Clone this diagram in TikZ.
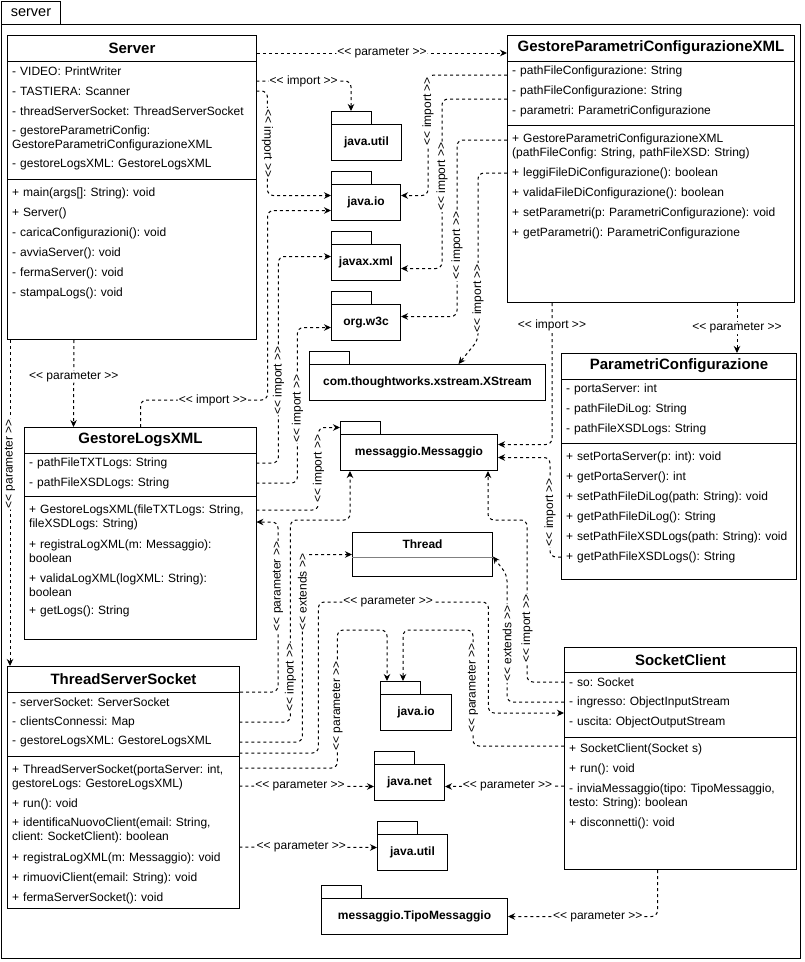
\documentclass[tikz,border=0pt]{standalone}
\usepackage{fontspec}
\setmainfont{Liberation Sans}[Ligatures=TeXOff]
\usetikzlibrary{arrows.meta}
\frenchspacing
\tikzset{
    cls/.style={draw, anchor=north west, inner sep=0pt, line width=1pt},
    row/.style={anchor=west, inner xsep=5pt, inner ysep=0pt, text width=#1, align=left, font=\fontsize{12}{14}\selectfont},
    title/.style={font=\fontsize{15}{16}\selectfont\bfseries},
    pkg/.style={draw, anchor=north west, minimum height=36, inner sep=0pt, line width=1pt, font=\fontsize{12}{14}\selectfont\bfseries},
    dep/.style={dash pattern=on 3pt off 3pt, line width=1pt, rounded corners=6pt, -{Stealth[length=7pt,width=6.5pt]}},
    lbl/.style={fill=white, inner sep=1pt, font=\fontsize{12}{14}\selectfont},
    lblv/.style={lbl, rotate=90}
}

\begin{document}
\begin{tikzpicture}[x=1pt, y=-1pt]
    \useasboundingbox (0,0) rectangle (804,962);
    \node[draw, anchor=north west, minimum width=59, minimum height=23, inner sep=0pt, line width=1pt, font=\fontsize{14.5}{16}\selectfont] (srvtab) at (1,1) {server};
    \node[cls, minimum width=799, minimum height=934] (frame) at (1,24) {};

    \node[cls, minimum width=249, minimum height=304] (srv) at (7,35) {};
    \node[title] at ([yshift=-13pt]srv.north) {Server};
    \draw[line width=1pt] ([yshift=-26pt]srv.north west) -- ([yshift=-26pt]srv.north east);
    \draw[line width=1pt] ([yshift=-144pt]srv.north west) -- ([yshift=-144pt]srv.north east);
    \foreach \y/\txt [count=\i] in {71/{- VIDEO: PrintWriter}, 91/{- TASTIERA: Scanner}, 111/{- threadServerSocket: ThreadServerSocket}, 138/{- gestoreParametriConfig:\\GestoreParametriConfigurazioneXML}, 165/{- gestoreLogsXML: GestoreLogsXML}, 193/{+ main(args[]: String): void}, 213/{+ Server()}, 233/{- caricaConfigurazioni(): void}, 253/{- avviaServer(): void}, 273/{- fermaServer(): void}, 293/{- stampaLogs(): void}}
        \node[row=239] (srv\i) at (7,\y) {\txt};

    \node[cls, minimum width=287, minimum height=267] (gpc) at (507,35) {};
    \node[title] at ([yshift=-13pt]gpc.north) {GestoreParametriConfigurazioneXML};
    \draw[line width=1pt] ([yshift=-26pt]gpc.north west) -- ([yshift=-26pt]gpc.north east);
    \draw[line width=1pt] ([yshift=-90pt]gpc.north west) -- ([yshift=-90pt]gpc.north east);
    \foreach \y/\txt [count=\i] in {71/{- pathFileConfigurazione: String}, 91/{- pathFileConfigurazione: String}, 111/{- parametri: ParametriConfigurazione}, 146/{+ GestoreParametriConfigurazioneXML\\(pathFileConfig: String, pathFileXSD: String)}, 173/{+ leggiFileDiConfigurazione(): boolean}, 193/{+ validaFileDiConfigurazione(): boolean}, 213/{+ setParametri(p: ParametriConfigurazione): void}, 233/{+ getParametri(): ParametriConfigurazione}}
        \node[row=277] (gpc\i) at (507,\y) {\txt};

    \node[cls, minimum width=232, minimum height=212] (glx) at (24,427) {};
    \node[title] at ([yshift=-13pt]glx.north) {GestoreLogsXML};
    \draw[line width=1pt] ([yshift=-26pt]glx.north west) -- ([yshift=-26pt]glx.north east);
    \draw[line width=1pt] ([yshift=-69pt]glx.north west) -- ([yshift=-69pt]glx.north east);
    \foreach \y/\txt [count=\i] in {463/{- pathFileTXTLogs: String}, 483/{- pathFileXSDLogs: String}, 517/{+ GestoreLogsXML(fileTXTLogs: String,\\fileXSDLogs: String)}, 551/{+ registraLogXML(m: Messaggio):\\boolean}, 585/{+ validaLogXML(logXML: String):\\boolean}, 611/{+ getLogs(): String}}
        \node[row=222] (glx\i) at (24,\y) {\txt};

    \node[cls, minimum width=232, minimum height=242] (tss) at (7,666) {};
    \node[title] at ([yshift=-13pt]tss.north) {ThreadServerSocket};
    \draw[line width=1pt] ([yshift=-26pt]tss.north west) -- ([yshift=-26pt]tss.north east);
    \draw[line width=1pt] ([yshift=-90pt]tss.north west) -- ([yshift=-90pt]tss.north east);
    \foreach \y/\txt [count=\i] in {702/{- serverSocket: ServerSocket}, 722/{- clientsConnessi: Map}, 742/{- gestoreLogsXML: GestoreLogsXML}, 777/{+ ThreadServerSocket(portaServer: int,\\gestoreLogs: GestoreLogsXML)}, 804/{+ run(): void}, 830/{+ identificaNuovoClient(email: String,\\client: SocketClient): boolean}, 858/{+ registraLogXML(m: Messaggio): void}, 878/{+ rimuoviClient(email: String): void}, 898/{+ fermaServerSocket(): void}}
        \node[row=222] (tss\i) at (7,\y) {\txt};

    \node[cls, minimum width=235, minimum height=226] (pc) at (561,353) {};
    \node[title] at ([yshift=-13pt]pc.north) {ParametriConfigurazione};
    \draw[line width=1pt] ([yshift=-26pt]pc.north west) -- ([yshift=-26pt]pc.north east);
    \draw[line width=1pt] ([yshift=-90pt]pc.north west) -- ([yshift=-90pt]pc.north east);
    \foreach \y/\txt [count=\i] in {389/{- portaServer: int}, 409/{- pathFileDiLog: String}, 429/{- pathFileXSDLogs: String}, 457/{+ setPortaServer(p: int): void}, 477/{+ getPortaServer(): int}, 497/{+ setPathFileDiLog(path: String): void}, 517/{+ getPathFileDiLog(): String}, 537/{+ setPathFileXSDLogs(path: String): void}, 557/{+ getPathFileXSDLogs(): String}}
        \node[row=225] (pc\i) at (561,\y) {\txt};

    \node[cls, minimum width=232, minimum height=222] (sc) at (564,647) {};
    \node[title] at ([yshift=-13pt]sc.north) {SocketClient};
    \draw[line width=1pt] ([yshift=-25pt]sc.north west) -- ([yshift=-25pt]sc.north east);
    \draw[line width=1pt] ([yshift=-90pt]sc.north west) -- ([yshift=-90pt]sc.north east);
    \foreach \y/\txt [count=\i] in {682/{- so: Socket}, 702/{- ingresso: ObjectInputStream}, 722/{- uscita: ObjectOutputStream}, 749/{+ SocketClient(Socket s)}, 769/{+ run(): void}, 796/{- inviaMessaggio(tipo: TipoMessaggio,\\testo: String): boolean}, 823/{+ disconnetti(): void}}
        \node[row=222] (sc\i) at (564,\y) {\txt};

    \node[cls, minimum width=140, minimum height=44] (thread) at (352,532) {};
    \node[font=\fontsize{12}{14}\selectfont\bfseries] at ([yshift=-12pt]thread.north) {Thread};
    \draw[gray] ([yshift=-25pt]thread.north west) -- ([yshift=-25pt]thread.north east);

    \foreach \n/\x/\y/\w/\txt in {jutil/331/124/70/java.util, jio/331/184/69/java.io, jxml/331/244/69/javax.xml, w3c/331/304/69/org.w3c, xstr/309/364/236/com.thoughtworks.xstream.XStream, msg/340/434/157/messaggio.Messaggio, jioB/380/694/71/java.io, jnet/374/764/70/java.net, jutilB/377/834/70/java.util, tipo/321/898/186/messaggio.TipoMessaggio}
    {
        \node[pkg, minimum width=\w] (\n) at (\x,\y) {\txt};
        \draw[line width=1pt] (\n.north west) rectangle ++(40,-13);
        \coordinate (\n-t) at ([xshift=20pt, yshift=13pt]\n.north west);
    }

    \draw[dep] ([yshift=-18pt]srv.north east) -- node[lbl]{<< parameter >>} ([yshift=-18pt]gpc.north west);
    \draw[dep] ([yshift=10pt]srv2.east) -| node[lbl, pos=0.25]{<< import >>} (jutil-t);
    \draw[dep] (srv2.east) -- ++(11,0) |- node[lbl, rotate=-90, pos=0.25]{<< import >>} ([yshift=7pt]jio.west);
    \draw[dep] ([xshift=-58pt]srv.south) -- node[lbl, pos=0.42]{<< parameter >>} ([xshift=-67pt]glx.north);
    \draw[dep] ([xshift=3pt]srv.south west) -- node[lblv, pos=0.38]{<< parameter >>} ([xshift=3pt]tss.north west);

    \draw[dep] ([yshift=-4pt]gpc1.west) -- ++(-79,0) |- node[lblv, pos=0.15]{<< import >>} ([yshift=7pt]jio.east);
    \draw[dep] ([yshift=-8pt]gpc2.west) -- ++(-65,0) |- node[lblv, pos=0.23]{<< import >>} ([yshift=-6pt]jxml.east);
    \draw[dep] ([yshift=6pt]gpc4.west) -- ++(-50,0) |- node[lblv, pos=0.3]{<< import >>} ([yshift=6pt]w3c.east);
    \draw[dep] (gpc5.west) -- ++(-29,0) -- node[lblv, pos=0.75]{<< import >>} ++(0,167) -- ([xshift=31pt]xstr.north);
    \draw[dep] ([xshift=-99pt]gpc.south) |- node[lbl, pos=0.08]{<< import >>} ([yshift=8pt]msg.east);
    \draw[dep] ([xshift=86pt]gpc.south) -- node[lbl]{<< parameter >>} ([xshift=58pt]pc.north);

    \draw[dep] (glx.north) -- ++(0,-27) -- node[lbl, pos=0.57]{<< import >>} ++(127,0) |- ([yshift=-8pt]jio.west);
    \draw[dep] (glx1.east) -- ++(22,0) |- node[lblv, pos=0.2]{<< import >>} ([yshift=6pt]jxml.west);
    \draw[dep] (glx2.east) -- ++(41,0) |- node[lblv, pos=0.24]{<< import >>} ([yshift=-5pt]w3c.west);
    \draw[dep] ([yshift=7pt]glx3.east) -- ++(62,0) |- node[lblv, pos=0.25]{<< import >>} ([yshift=6.5pt]msg.north west);

    \draw[dep] ([yshift=-26pt]tss.north east) -- ++(38,0) |- node[lblv, pos=0.31]{<< parameter >>} ([yshift=-5pt]glx3.east);
    \draw[dep] (tss2.east) -- ++(51,0) -- node[lblv, pos=0.22]{<< import >>} ++(0,-202) -| ([xshift=10pt]msg.south west);
    \draw[dep] (tss3.east) -- ++(63,0) |- node[lblv, pos=0.4]{<< extends >>} (thread.west);
    \draw[dep] ([yshift=-11pt]tss3.east) -- ++(79,0) -- ++(0,-151) -- node[lbl, pos=0.41]{<< parameter >>} ++(170,0) |- ([yshift=9pt]sc3.west);
    \draw[dep] ([yshift=9pt]tss4.east) -- ++(98,0) -- node[lblv, pos=0.45]{<< parameter >>} ++(0,-138) -| ([xshift=-13pt]jioB-t);
    \draw[dep] ([yshift=-9pt]tss4.east) -- node[lbl, pos=0.45]{<< parameter >>} ([yshift=-4pt]jnet.west);
    \draw[dep] ([yshift=-17pt]tss6.east) -- node[lbl, pos=0.45]{<< parameter >>} ([yshift=5pt]jutilB.west);

    \draw[dep] (pc9.west) -- ++(-11,0) |- node[lblv, pos=0.225]{<< import >>} ([yshift=-5pt]msg.east);

    \draw[dep] (sc1.west) -- ++(-37,0) -- node[lblv, pos=0.33]{<< import >>} ++(0,-162) -| ([xshift=-10pt]msg.south east);
    \draw[dep] (sc2.west) -- ++(-57,0) -- node[lblv, pos=0.46]{<< extends >>} ++(0,-127) -- ([yshift=-2pt]thread.east);
    \draw[dep] ([yshift=3pt]sc4.west) -- ++(-91,0) -- node[lblv, pos=0.5]{<< parameter >>} ++(0,-116) -| ([xshift=3pt]jioB-t);
    \draw[dep] ([yshift=10pt]sc6.west) -- node[lbl, pos=0.475]{<< parameter >>} ([yshift=-4pt]jnet.east);
    \draw[dep] ([xshift=-23pt]sc.south) |- node[lbl, pos=0.7]{<< parameter >>} (tipo.east);
\end{tikzpicture}
\end{document}
